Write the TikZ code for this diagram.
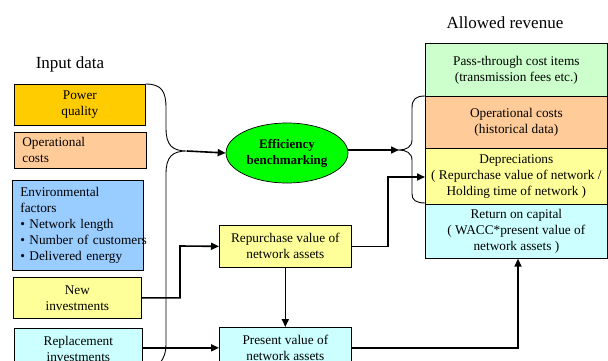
\documentclass[tikz,border=0pt]{standalone}
\usepackage{fontspec}
\setmainfont{Liberation Serif}
\usetikzlibrary{arrows.meta,shapes.geometric}
\definecolor{cGold}{HTML}{FFCC00}
\definecolor{cPeach}{HTML}{FFCC99}
\definecolor{cBlue}{HTML}{99CCFF}
\definecolor{cYellow}{HTML}{FFFF99}
\definecolor{cCyan}{HTML}{CCFFFF}
\definecolor{cMint}{HTML}{CCFFCC}
\definecolor{cGreen}{HTML}{00FF00}
\tikzset{
  box/.style 2 args={draw=black, line width=0.7pt, minimum width=#1, minimum height=#2,
    anchor=north west, inner sep=0pt, align=center,
    font=\fontsize{13.3}{16}\selectfont},
  lbox/.style 2 args={box={#1}{#2}, text width=#1-16pt, inner xsep=8pt, align=left},
  header/.style={font=\fontsize{17}{20}\selectfont},
  arr/.style={line width=1.6pt, -{Triangle[length=8pt,width=7pt]}},
  brace/.style={line width=0.9pt}
}
\begin{document}
\begin{tikzpicture}[x=1pt,y=-1pt]
\useasboundingbox (0,0) rectangle (608,361);
% headers
\node[header] (hin) at (70,64) {Input data};
\node[header] (hout) at (505,23) {Allowed revenue};
% left input boxes
\node[box={131pt}{41pt}, fill=cGold] (pq) at (14,84) {Power\\quality};
\node[lbox={132pt}{36pt}, fill=cPeach] (oc) at (14,132) {Operational\\costs};
\node[lbox={131pt}{90pt}, fill=cBlue] (env) at (12,180) {Environmental\\factors\\\mbox{\textbullet\ Network length}\\\mbox{\textbullet\ Number of customers}\\\mbox{\textbullet\ Delivered energy}};
\node[box={128pt}{41pt}, fill=cYellow] (ni) at (13,277) {New\\investments};
\node[box={128pt}{41pt}, fill=cCyan] (ri) at (14,328) {Replacement\\investments};
% middle
\node[ellipse, draw=black, line width=0.7pt, fill=cGreen, minimum width=122pt, minimum height=60pt,
  inner sep=0pt, align=center, font=\fontsize{13}{16}\selectfont\bfseries] (eb) at (287,153) {Efficiency\\benchmarking};
\node[box={132pt}{42pt}, fill=cYellow] (rv) at (219,225) {Repurchase value of\\network assets};
\node[box={132pt}{41pt}, fill=cCyan] (pv) at (219,327) {Present value of\\network assets};
% right revenue boxes
\node[box={182pt}{53pt}, fill=cMint] (pt) at (425,43) {Pass-through cost items\\(transmission fees etc.)};
\node[box={182pt}{52pt}, fill=cPeach] (ro) at (425,96) {Operational costs\\(historical data)};
\node[box={182pt}{56pt}, fill=cYellow] (dp) at (425,148) {Depreciations\\( Repurchase value of network /\\Holding time of network )};
\node[box={182pt}{54pt}, fill=cCyan] (rc) at (425,204) {Return on capital\\( WACC*present value of\\network assets )};
% left brace
\coordinate (lt) at (187,151);
\draw[brace] (pq.north east) .. controls (162,84) and (166,92) .. (166,108) -- (166,128)
  .. controls (166,145) and (172,151) .. (lt)
  .. controls (172,151) and (166,157) .. (166,174) -- (166,345)
  .. controls (166,352) and (164,358) .. (160,363);
\draw[arr] (lt) -- (eb.west);
% right brace
\coordinate (rt) at (399,150);
\draw[brace] (ro.north west) .. controls (416,96) and (412,99) .. (412,108) -- (412,140)
  .. controls (412,147) and (406,150) .. (rt)
  .. controls (406,150) and (412,153) .. (412,160) -- (412,194)
  .. controls (412,200) and (416,203) .. (425,203);
\draw[arr] (eb.east |- rt) -- (rt);
% investment flows
\draw[arr] (ni.east) -| (180,246) -- (rv.west);
\draw[arr] (ri.east |- pv.west) -- (pv.west);
\draw[arr] (rv.south) -- (pv.north);
\draw[arr] (rv.east) -| (388,177) -- (dp.west |- 0,177);
\draw[arr] (pv.east) -| (rc.south -| 518,0);
\end{tikzpicture}
\end{document}
